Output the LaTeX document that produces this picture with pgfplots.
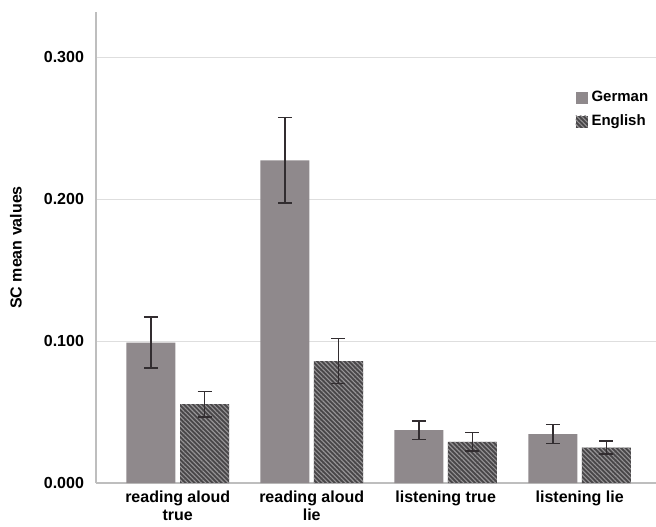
\documentclass[border=0pt]{standalone}
\usepackage{fontspec}
\setmainfont{Liberation Sans}
\usepackage{pgfplots}
\pgfplotsset{compat=1.18}
\usetikzlibrary{patterns.meta}
\definecolor{germanc}{RGB}{143,137,140}
\definecolor{englishbg}{RGB}{72,70,72}
\definecolor{englishln}{RGB}{150,148,150}
\definecolor{axisc}{RGB}{190,190,190}
\definecolor{gridc}{RGB}{222,222,222}
\definecolor{errc}{RGB}{50,45,48}
\begin{document}
\begin{tikzpicture}
\useasboundingbox (0,0) rectangle (328pt,263pt);
\begin{axis}[
  at={(48pt,21.5pt)}, anchor=south west,
  scale only axis, width=280pt, height=235.5pt,
  xmin=-0.61, xmax=3.57, ymin=0, ymax=0.332,
  axis x line=bottom, axis y line=left,
  axis line style={-, draw=axisc, line width=0.8pt},
  ymajorgrids, grid style={draw=gridc, line width=0.6pt},
  major tick length=0pt,
  ytick={0,0.1,0.2,0.3},
  yticklabels={0.000,0.100,0.200,0.300},
  xtick={0,1,2,3},
  xticklabels={{reading aloud\\true},{reading aloud\\lie},{listening true},{listening lie}},
  xticklabel style={align=center, font=\bfseries\fontsize{8}{9}\selectfont, yshift=-0.5pt},
  yticklabel style={font=\bfseries\fontsize{8}{9}\selectfont, xshift=-2.5pt},
  ylabel={SC mean values},
  every axis y label/.style={at={(axis description cs:-0.143,0.5)}, rotate=90, anchor=center,
    font=\bfseries\fontsize{8}{9}\selectfont},
  legend style={at={(rel axis cs:0.852,0.845)}, anchor=north west, draw=none, fill=none,
    font=\bfseries\fontsize{7.5}{9}\selectfont, row sep=1pt, inner sep=1pt},
  legend cell align=left,
  legend image code/.code={\path[#1] (0pt,-3pt) rectangle (6pt,3pt);},
  error bars/error bar style={draw=errc, line width=0.7pt},
  error bars/error mark options={rotate=90, mark size=3.5pt, draw=errc, line width=0.7pt},
]
% German bars at category - 0.2
\addplot[ybar, bar width=0.366, bar shift=0, fill=germanc, draw=none,
  error bars/.cd, y dir=both, y explicit]
  coordinates {(-0.2,0.099) +- (0,0.018) (0.8,0.2275) +- (0,0.030) (1.8,0.0373) +- (0,0.0065) (2.8,0.0345) +- (0,0.0068)};
\addlegendentry{German}
% English bars at category + 0.2
\addplot[ybar, bar width=0.366, bar shift=0, fill=englishbg, draw=none,
  postaction={pattern={Lines[angle=-45,distance=1.6pt,line width=0.55pt]}, pattern color=englishln},
  error bars/.cd, y dir=both, y explicit]
  coordinates {(0.2,0.0556) +- (0,0.009) (1.2,0.086) +- (0,0.016) (2.2,0.029) +- (0,0.0065) (3.2,0.025) +- (0,0.0045)};
\addlegendentry{English}
\end{axis}
\end{tikzpicture}
\end{document}
